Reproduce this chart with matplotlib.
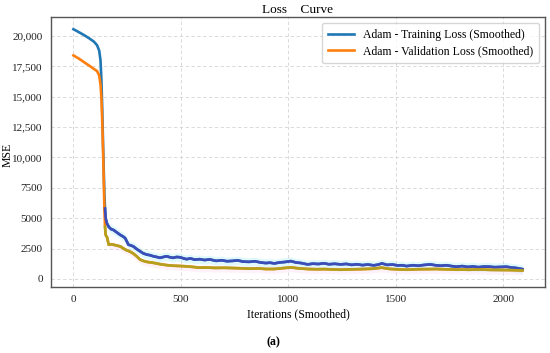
import numpy as np
import matplotlib
matplotlib.use("Agg")
import matplotlib.pyplot as plt
from matplotlib.ticker import FuncFormatter

plt.rcParams["font.family"] = ["Liberation Serif", "DejaVu Serif"]

# --- data (smoothed MSE per iteration) ---
train_iter = [0, 25, 50, 75, 95, 110, 120, 126, 130, 134, 138, 141, 144, 147, 150,
              155, 164, 175, 187, 200, 218, 230, 241, 256, 268, 279, 295, 310, 325,
              341, 356, 372, 388, 403, 418, 434, 449, 464, 480, 495, 510, 526, 545,
              565, 587, 610, 635, 664, 690, 715, 741, 765, 790, 818, 845, 870, 895,
              915, 935, 960, 985, 1012, 1035, 1060, 1090, 1115, 1140, 1165, 1190,
              1215, 1244, 1270, 1295, 1320, 1345, 1370, 1398, 1420, 1436, 1460, 1485,
              1510, 1530, 1551, 1580, 1605, 1630, 1661, 1685, 1710, 1735, 1760, 1783,
              1810, 1835, 1860, 1885, 1910, 1938, 1960, 1990, 2015, 2040, 2060, 2077,
              2090]
train_loss = [20570, 20330, 20080, 19800, 19550, 19250, 18800, 18000, 16500, 14000,
              11000, 9000, 7000, 5800, 5000, 4600, 4290, 4100, 4020, 3850, 3620, 3500,
              3350, 2810, 2750, 2670, 2450, 2270, 2100, 2000, 1950, 1860, 1800, 1730,
              1800, 1860, 1780, 1730, 1800, 1780, 1700, 1620, 1680, 1580, 1620, 1550,
              1600, 1480, 1530, 1450, 1480, 1520, 1420, 1400, 1450, 1350, 1300, 1330,
              1270, 1350, 1390, 1460, 1350, 1300, 1190, 1250, 1220, 1280, 1200, 1240,
              1190, 1230, 1150, 1200, 1130, 1180, 1110, 1180, 1270, 1150, 1180, 1100,
              1120, 1050, 1120, 1080, 1140, 1190, 1120, 1080, 1120, 1050, 1000, 1050,
              980, 1020, 960, 1010, 1000, 960, 980, 1000, 930, 900, 840, 800]

val_iter = [0, 25, 50, 75, 95, 110, 120, 126, 130, 134, 138, 141, 144, 147, 150, 157,
            164, 175, 187, 200, 218, 233, 248, 263, 279, 295, 310, 325, 341, 372, 403,
            434, 464, 495, 526, 556, 587, 620, 660, 700, 741, 780, 818, 860, 895, 935,
            975, 1012, 1050, 1090, 1130, 1170, 1210, 1244, 1290, 1340, 1390, 1436, 1470,
            1510, 1551, 1600, 1650, 1690, 1740, 1790, 1844, 1890, 1940, 1990, 2040,
            2077, 2090]
val_loss = [18410, 18150, 17850, 17550, 17300, 17120, 16750, 16000, 15000, 13000,
            10500, 8200, 5800, 4300, 3620, 3400, 2810, 2850, 2810, 2750, 2670, 2500,
            2350, 2250, 2080, 1850, 1590, 1480, 1400, 1320, 1210, 1130, 1080, 1060,
            1030, 980, 920, 930, 900, 910, 890, 870, 840, 860, 810, 810, 880, 940, 860,
            810, 790, 800, 770, 750, 780, 800, 830, 920, 820, 780, 750, 790, 800, 810,
            780, 760, 750, 770, 740, 730, 720, 700, 690]

train_iter = np.array(train_iter)
train_loss = np.array(train_loss)
val_iter = np.array(val_iter)
val_loss = np.array(val_loss)

fig = plt.figure(figsize=(5.5, 3.53), dpi=100)
ax = fig.add_axes([0.0927, 0.187, 0.898, 0.765])

# shaded bands on the converged part
tm = train_iter >= 147
vm = val_iter >= 147
ax.fill_between(train_iter[tm], train_loss[tm] - 350, train_loss[tm] + 350,
                color="#7fe8f0", alpha=0.22, lw=0)
ax.fill_between(val_iter[vm], val_loss[vm] - 350, val_loss[vm] + 200,
                color="#f5b8e0", alpha=0.18, lw=0)

ax.plot(train_iter, train_loss, color="#1f77b4", lw=1.9,
        label="Adam - Training Loss (Smoothed)")
ax.plot(val_iter, val_loss, color="#ff7f0e", lw=1.9,
        label="Adam - Validation Loss (Smoothed)")
# overlaid tails
ax.plot(train_iter[tm], train_loss[tm], color="#3c4cb8", lw=1.9)
ax.plot(val_iter[vm], val_loss[vm], color="#b3a11e", lw=1.9)

ax.yaxis.set_major_formatter(FuncFormatter(
    lambda v, p: f"{v:,.0f}" if v >= 10000 else f"{v:.0f}"))
ax.set_yticks(np.arange(0, 20001, 2500))
ax.set_xticks([0, 500, 1000, 1500, 2000])

ax.grid(True, ls=(0, (4, 3)), color="#d4d4d4", lw=0.6)
ax.tick_params(length=0, labelsize=8, pad=6, colors="#222222")
for s in ax.spines.values():
    s.set_color("#555555")
    s.set_linewidth(1.0)

ax.set_xlabel("Iterations (Smoothed)", fontsize=8.5, labelpad=3)
ax.set_ylabel("MSE", fontsize=8.5)
ax.yaxis.set_label_coords(-0.075, 0.49)
ax.set_title("Loss    Curve", fontsize=9.5, pad=3)

leg = ax.legend(loc="upper right", fontsize=8.5, frameon=True, fancybox=True,
                borderpad=0.5, handlelength=2.2, labelspacing=0.4)
leg.get_frame().set_edgecolor("#cccccc")

fig.text(0.497, 0.03, "(a)", ha="center", va="center", fontsize=8.5,
         fontweight="bold")

fig.savefig("out.png", dpi=100)
